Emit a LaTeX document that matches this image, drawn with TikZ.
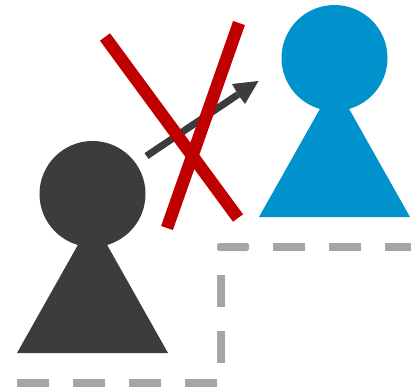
\documentclass[tikz,border=0pt]{standalone}
\definecolor{darkfig}{HTML}{3C3C3C}
\definecolor{bluefig}{HTML}{0092CC}
\definecolor{crossred}{HTML}{C00000}
\definecolor{dashgrey}{HTML}{A6A6A6}
\tikzset{
  crossline/.style={draw=crossred,line width=12.5pt},
  dashline/.style={draw=dashgrey,line width=8pt,dash pattern=on 32pt off 24pt},
  cornerline/.style={draw=dashgrey,line width=8pt,line join=round},
  arrowbody/.style={draw=darkfig,line width=7pt}
}
\begin{document}
\begin{tikzpicture}[x=1pt,y=-1pt]
\useasboundingbox (0,0) rectangle (411,391);
% dashed outline
\draw[dashline] (17,383) -- (217,383);
\draw[dashline] (221,363) -- (221,275);
\fill[dashgrey,rounded corners=2.5pt] (217,251) -- (217,243) -- (249,243) -- (249,251) -- cycle;
\draw[dashline] (273,247) -- (411,247);
% dark figure
\fill[darkfig] (92.5,194) circle (53);
\fill[darkfig] (92.5,219) -- (168,353) -- (17,353) -- cycle;
% blue figure
\fill[bluefig] (334.5,58) circle (53);
\fill[bluefig] (334.5,83) -- (410,217) -- (259,217) -- cycle;
% arrow
\draw[arrowbody] (146.5,156) -- (238,94.5);
\fill[darkfig] (258.5,81) -- (232,84) -- (238,94.5) -- (245,104) -- cycle;
% cross
\draw[crossline] (105,37) -- (238,218);
\draw[crossline] (239,23) -- (167,228);
\end{tikzpicture}
\end{document}
